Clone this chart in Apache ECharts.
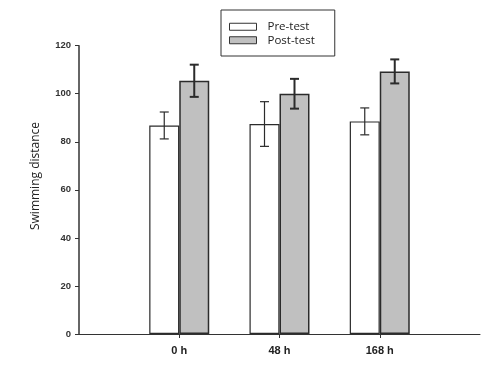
<!DOCTYPE html>
<html>
<head>
<meta charset="utf-8">
<script src="https://cdn.jsdelivr.net/npm/echarts@6/dist/echarts.min.js"></script>
<style>html,body{margin:0;padding:0;background:#fff}#c{width:500px;height:365px}</style>
</head>
<body>
<div id="c"></div>
<script>
var categories = ['', '0 h', '48 h', '168 h', ''];
var preTest = [null, 86.8, 87.4, 88.5, null];
var postTest = [null, 105.4, 100.0, 109.3, null];
var preErr = [null, 5.6, 9.3, 5.6, null];
var postErr = [null, 6.7, 6.2, 5.0, null];
var yTicks = [0, 20, 40, 60, 80, 100, 120];

var chart = echarts.init(document.getElementById('c'));

function errSeries(vals, errs, offset, lw, name) {
  var data = [];
  for (var i = 0; i < vals.length; i++) {
    if (vals[i] != null) data.push([i, vals[i] - errs[i], vals[i] + errs[i]]);
  }
  return {
    type: 'custom',
    name: name,
    z: 10,
    silent: true,
    data: data,
    renderItem: function (params, api) {
      var lo = api.coord([api.value(0), api.value(1)]);
      var hi = api.coord([api.value(0), api.value(2)]);
      var x = lo[0] + offset;
      var cw = 4.5;
      var st = { stroke: '#2b2b2b', lineWidth: lw };
      return {
        type: 'group',
        children: [
          { type: 'line', shape: { x1: x, y1: lo[1], x2: x, y2: hi[1] }, style: st },
          { type: 'line', shape: { x1: x - cw, y1: lo[1], x2: x + cw, y2: lo[1] }, style: st },
          { type: 'line', shape: { x1: x - cw, y1: hi[1], x2: x + cw, y2: hi[1] }, style: st }
        ]
      };
    }
  };
}

var showIdx = function (i) { return i >= 1 && i <= 3; };

chart.setOption({
  animation: false,
  grid: { left: 79, right: 20, top: 45.7, bottom: 31, containLabel: false },
  legend: {
    orient: 'vertical',
    left: 221,
    top: 10,
    padding: [10, 20, 9, 8],
    itemGap: 0,
    itemWidth: 27,
    itemHeight: 7,
    borderColor: '#333',
    borderWidth: 1,
    icon: 'rect',
    itemStyle: { borderWidth: 1, borderColor: '#333' },
    textStyle: { fontFamily: 'Open Sans', fontSize: 11.5, color: '#222', lineHeight: 13.5, padding: [0, 0, 0, 6] },
    data: ['Pre-test', 'Post-test']
  },
  xAxis: {
    type: 'category',
    data: categories,
    boundaryGap: false,
    axisLine: { lineStyle: { color: '#333', width: 1 } },
    axisTick: { show: true, length: 4, interval: function (i) { return showIdx(i); }, lineStyle: { color: '#333' } },
    axisLabel: { interval: function (i) { return showIdx(i); }, margin: 11, fontFamily: 'Liberation Sans', fontSize: 11, fontWeight: 'bold', color: '#222' },
    splitLine: { show: false }
  },
  yAxis: {
    type: 'value',
    min: 0,
    max: 120,
    interval: 20,
    axisLine: { show: true, lineStyle: { color: '#333', width: 1.5 } },
    axisTick: { show: true, length: 4, lineStyle: { color: '#333' } },
    axisLabel: { margin: 8, fontFamily: 'Liberation Sans', fontSize: 9.5, fontWeight: 'bold', color: '#333',
      formatter: function (v) { return yTicks.indexOf(v) >= 0 ? String(v) : ''; } },
    splitLine: { show: false }
  },
  graphic: [{
    type: 'text',
    x: 36, y: 176,
    rotation: Math.PI / 2,
    style: { text: 'Swimming distance', font: '12px "Open Sans"', fill: '#222', align: 'center', verticalAlign: 'middle' }
  }],
  series: [
    {
      name: 'Pre-test', type: 'bar', data: preTest, barWidth: 30, barGap: '0%',
      itemStyle: { color: '#ffffff', borderColor: '#2b2b2b', borderWidth: 1.2 }
    },
    {
      name: 'Post-test', type: 'bar', data: postTest, barWidth: 30, barGap: '0%',
      itemStyle: { color: '#c0c0c0', borderColor: '#2b2b2b', borderWidth: 1.5 }
    },
    errSeries(preTest, preErr, -15, 1.2, 'preErr'),
    errSeries(postTest, postErr, 15, 2, 'postErr')
  ]
});
</script>
</body>
</html>
